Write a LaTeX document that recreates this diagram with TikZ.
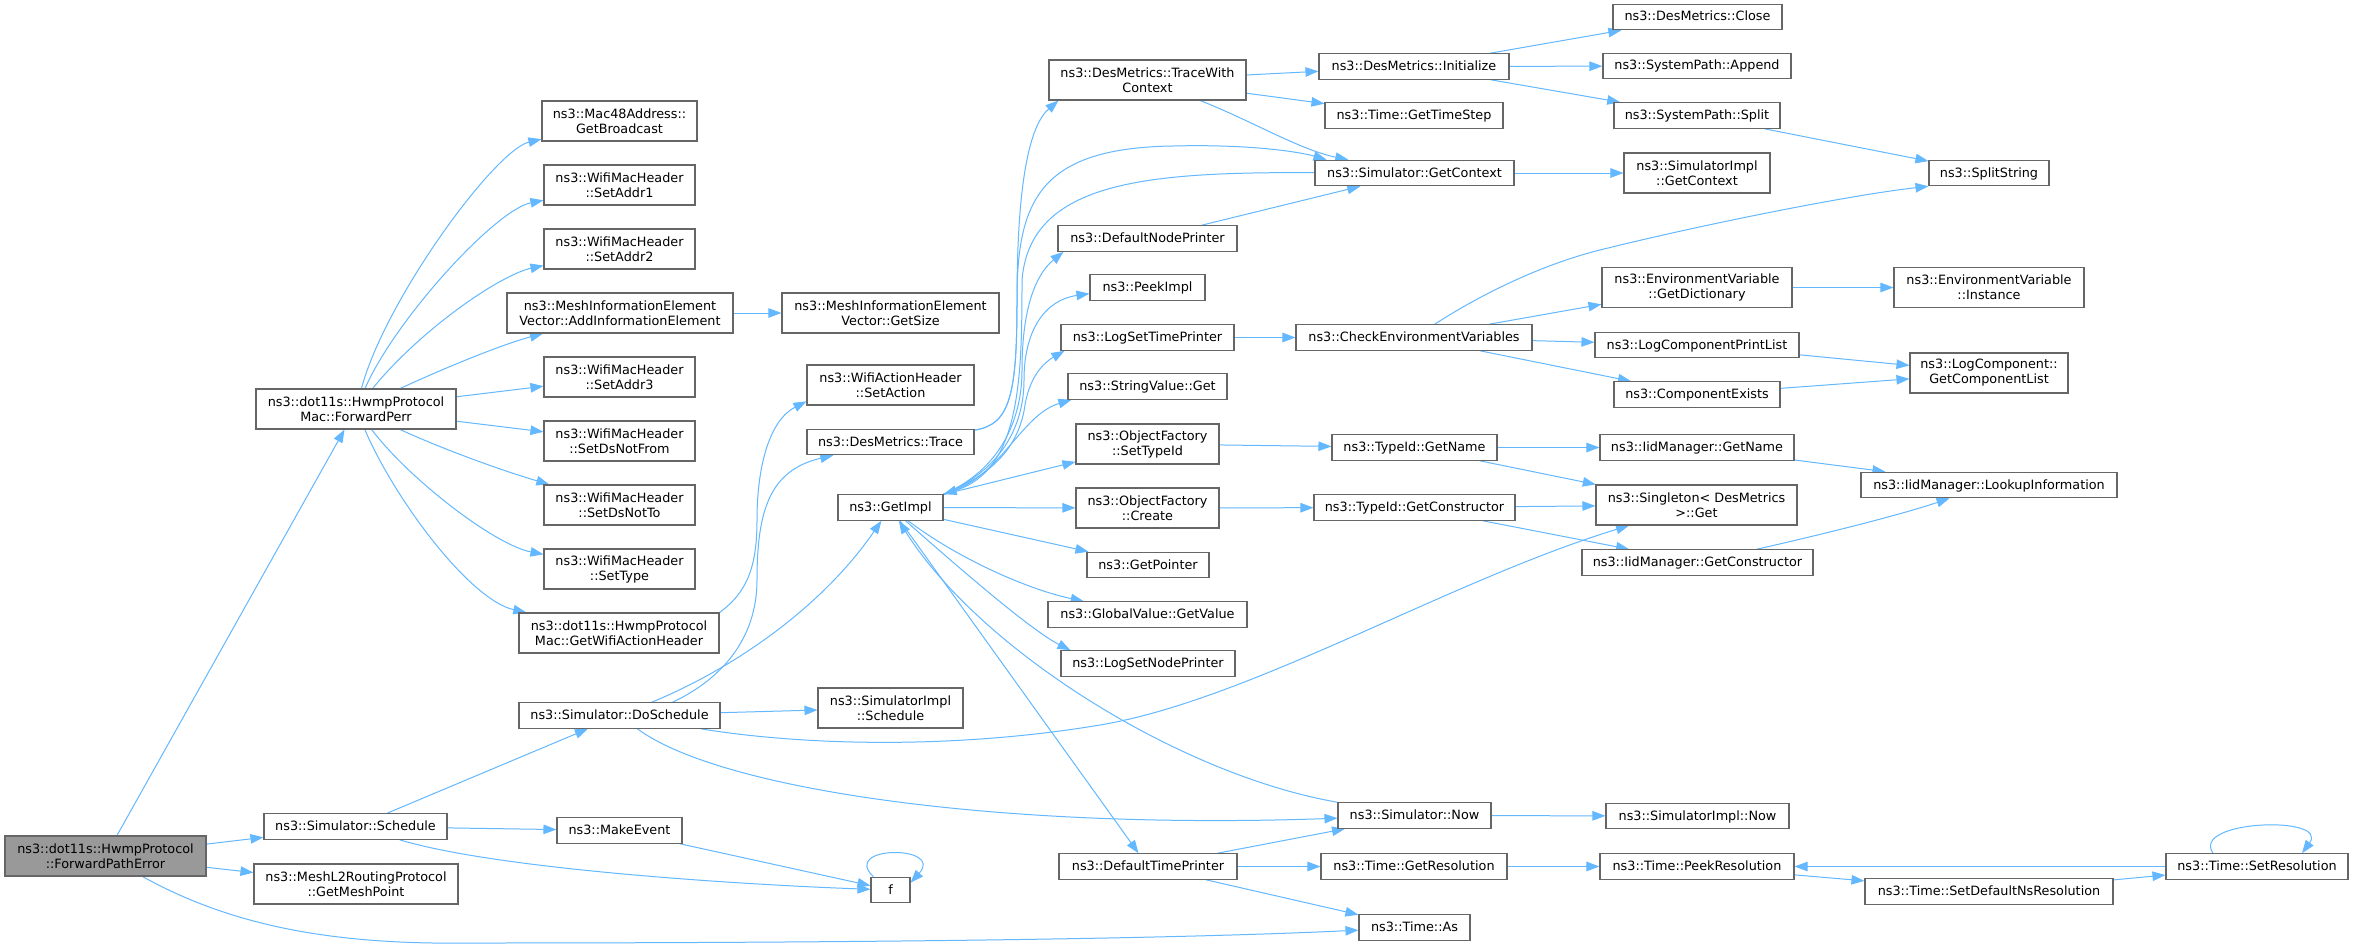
\documentclass[tikz,border=0pt]{standalone}
\usepackage{fontspec}
\setmainfont{DejaVu Sans}
\usetikzlibrary{arrows.meta}
\definecolor{edgec}{HTML}{63B8FF}
\definecolor{boxc}{HTML}{666666}
\definecolor{fpec}{HTML}{999999}
\pgfdeclarelayer{bg}
\pgfsetlayers{bg,main}
\begin{document}
\begin{tikzpicture}[x=1pt,y=-1pt,
  font=\fontsize{12.8}{15}\selectfont,
  box/.style={draw=boxc, line width=1.1pt, fill=white, inner sep=0pt, minimum height=25.5pt, text height=9.4pt, text depth=1.4pt},
  two/.style={draw=boxc, line width=1.1pt, fill=white, inner sep=0pt, minimum height=40pt, align=center},
  e/.style={draw=edgec, line width=1pt, -{Triangle[length=13pt,width=9.5pt]}}]
\begin{pgfonlayer}{bg}
\fill[white] (0,0) rectangle (2355,950);
\end{pgfonlayer}
\useasboundingbox (0,0) rectangle (2355,950);

% column 0-2
\node[two, fill=fpec, minimum width=201pt] (fpe) at (105.5,856) {ns3::dot11s::HwmpProtocol\\::ForwardPathError};
\node[two, minimum width=200pt] (fperr) at (356,409) {ns3::dot11s::HwmpProtocol\\Mac::ForwardPerr};
\node[box, minimum width=183pt] (sched) at (355.5,826.5) {ns3::Simulator::Schedule};
\node[two, minimum width=204pt] (meshpt) at (356,884) {ns3::MeshL2RoutingProtocol\\::GetMeshPoint};
\node[two, minimum width=155pt] (mac48) at (619.5,121) {ns3::Mac48Address::\\GetBroadcast};
\node[two, minimum width=151pt] (sa1) at (619.5,185) {ns3::WifiMacHeader\\::SetAddr1};
\node[two, minimum width=151pt] (sa2) at (619.5,249) {ns3::WifiMacHeader\\::SetAddr2};
\node[two, minimum width=226pt] (addie) at (620,313) {ns3::MeshInformationElement\\Vector::AddInformationElement};
\node[two, minimum width=151pt] (sa3) at (619.5,377) {ns3::WifiMacHeader\\::SetAddr3};
\node[two, minimum width=151pt] (sdnf) at (619.5,441) {ns3::WifiMacHeader\\::SetDsNotFrom};
\node[two, minimum width=151pt] (sdnt) at (619.5,505) {ns3::WifiMacHeader\\::SetDsNotTo};
\node[two, minimum width=151pt] (stype) at (619.5,569) {ns3::WifiMacHeader\\::SetType};
\node[two, minimum width=200pt] (gwah) at (619,633) {ns3::dot11s::HwmpProtocol\\Mac::GetWifiActionHeader};
\node[box, minimum width=201pt] (dosch) at (619.5,715.5) {ns3::Simulator::DoSchedule};
\node[box, minimum width=125pt] (mkev) at (619.5,830.5) {ns3::MakeEvent};
% column 3
\node[two, minimum width=217pt] (gsize) at (890.5,313) {ns3::MeshInformationElement\\Vector::GetSize};
\node[two, minimum width=167pt] (sact) at (890.5,385) {ns3::WifiActionHeader\\::SetAction};
\node[box, minimum width=167pt] (trace) at (890.5,442) {ns3::DesMetrics::Trace};
\node[box, minimum width=105pt] (gi) at (890.5,507.5) {ns3::GetImpl};
\node[two, minimum width=145pt] (sisch) at (890.5,708) {ns3::SimulatorImpl\\::Schedule};
\node[box, minimum width=39pt] (f) at (890.5,890) {f};
% column 4
\node[two, minimum width=197pt] (twc) at (1147.5,80) {ns3::DesMetrics::TraceWith\\Context};
\node[box, minimum width=179pt] (dnp) at (1147.5,238.5) {ns3::DefaultNodePrinter};
\node[box, minimum width=115pt] (peek) at (1147.5,287.5) {ns3::PeekImpl};
\node[box, minimum width=173pt] (lstp) at (1147.5,337.5) {ns3::LogSetTimePrinter};
\node[box, minimum width=159pt] (svget) at (1147.5,386.5) {ns3::StringValue::Get};
\node[two, minimum width=143pt] (ofsti) at (1147.5,444) {ns3::ObjectFactory\\::SetTypeId};
\node[two, minimum width=143pt] (ofcr) at (1147.5,508) {ns3::ObjectFactory\\::Create};
\node[box, minimum width=122pt] (gptr) at (1148,565) {ns3::GetPointer};
\node[box, minimum width=199pt] (gval) at (1147.5,614.5) {ns3::GlobalValue::GetValue};
\node[box, minimum width=174pt] (lsnp) at (1148,663.5) {ns3::LogSetNodePrinter};
\node[box, minimum width=178pt] (dtp) at (1148,866.5) {ns3::DefaultTimePrinter};
% column 5
\node[box, minimum width=190pt] (dminit) at (1414,66.5) {ns3::DesMetrics::Initialize};
\node[box, minimum width=178pt] (gts) at (1414,115.5) {ns3::Time::GetTimeStep};
\node[box, minimum width=199pt] (gctx) at (1414.5,173) {ns3::Simulator::GetContext};
\node[box, minimum width=236pt] (cev) at (1414,337.5) {ns3::CheckEnvironmentVariables};
\node[box, minimum width=165pt] (tgn) at (1414.5,447.5) {ns3::TypeId::GetName};
\node[box, minimum width=201pt] (tgc) at (1414.5,507.5) {ns3::TypeId::GetConstructor};
\node[box, minimum width=153pt] (snow) at (1414.5,815.5) {ns3::Simulator::Now};
\node[box, minimum width=186pt] (gres) at (1414,866.5) {ns3::Time::GetResolution};
\node[box, minimum width=111pt] (tas) at (1414.5,927.5) {ns3::Time::As};
% column 6
\node[box, minimum width=169pt] (dmclose) at (1697.5,17) {ns3::DesMetrics::Close};
\node[box, minimum width=188pt] (spapp) at (1697,66) {ns3::SystemPath::Append};
\node[box, minimum width=166pt] (spsplit) at (1697,115.5) {ns3::SystemPath::Split};
\node[two, minimum width=146pt] (sigc) at (1697,173) {ns3::SimulatorImpl\\::GetContext};
\node[two, minimum width=190pt] (evgd) at (1697,287.5) {ns3::EnvironmentVariable\\::GetDictionary};
\node[box, minimum width=204pt] (lcpl) at (1697,345) {ns3::LogComponentPrintList};
\node[box, minimum width=166pt] (cex) at (1697,394.5) {ns3::ComponentExists};
\node[box, minimum width=194pt] (imgn) at (1697,447.5) {ns3::IidManager::GetName};
\node[two, minimum width=201pt] (sing) at (1696.5,505) {ns3::Singleton< DesMetrics\\ >::Get};
\node[box, minimum width=231pt] (imgc) at (1697.5,562.5) {ns3::IidManager::GetConstructor};
\node[box, minimum width=183pt] (sinow) at (1697.5,816) {ns3::SimulatorImpl::Now};
\node[box, minimum width=194pt] (peekres) at (1697,866.5) {ns3::Time::PeekResolution};
% column 7-8
\node[box, minimum width=120pt] (sstr) at (1989,173) {ns3::SplitString};
\node[two, minimum width=190pt] (evinst) at (1989,287.5) {ns3::EnvironmentVariable\\::Instance};
\node[two, minimum width=158pt] (gcl) at (1989,373) {ns3::LogComponent::\\GetComponentList};
\node[box, minimum width=256pt] (lookup) at (1989,485) {ns3::IidManager::LookupInformation};
\node[box, minimum width=248pt] (sdns) at (1989,891.5) {ns3::Time::SetDefaultNsResolution};
\node[box, minimum width=182pt] (setres) at (2257,866.5) {ns3::Time::SetResolution};

\begin{pgfonlayer}{bg}
% ForwardPathError
\draw[e] (fpe) -- (fperr);
\draw[e] (fpe) -- (sched);
\draw[e] (fpe) -- (meshpt);
\draw[e] (fpe) .. controls (230,925) and (330,945) .. (470,943) .. controls (800,943) and (1150,940) .. (tas);
% ForwardPerr
\draw[e] (fperr) .. controls (385,300) and (495,150) .. (mac48);
\draw[e] (fperr) .. controls (395,320) and (495,210) .. (sa1);
\draw[e] (fperr) .. controls (420,330) and (500,275) .. (sa2);
\draw[e] (fperr) .. controls (440,370) and (500,345) .. (addie);
\draw[e] (fperr) -- (sa3);
\draw[e] (fperr) -- (sdnf);
\draw[e] (fperr) .. controls (440,448) and (500,470) .. (sdnt);
\draw[e] (fperr) .. controls (410,480) and (495,545) .. (stype);
\draw[e] (fperr) .. controls (395,500) and (470,600) .. (gwah);
\draw[e] (addie) -- (gsize);
\draw[e] (gwah.north east) .. controls (748,592) and (757,565) .. (757,520) .. controls (757,465) and (770,420) .. (sact.191);
% Schedule
\draw[e] (sched) -- (dosch);
\draw[e] (sched) -- (mkev);
\draw[e] (sched) .. controls (500,870) and (750,885) .. (f);
\draw[e] (mkev) -- (f);
\draw[e] ([xshift=3pt]f.north west) .. controls (840,845) and (945,845) .. (f.20);
% DoSchedule
\draw[e] ([xshift=53pt]dosch.north) .. controls (720,680) and (757,640) .. (757,580) .. controls (757,510) and (770,470) .. (trace);
\draw[e] (dosch) .. controls (730,670) and (820,610) .. (gi);
\draw[e] (dosch) -- (sisch);
\draw[e] (dosch) .. controls (800,745) and (950,750) .. (1100,725) .. controls (1250,700) and (1450,580) .. (sing);
\draw[e] (dosch) .. controls (720,790) and (1000,830) .. (snow);
% Trace
\draw[e] (trace) .. controls (1010,425) and (1017,395) .. (1017,300) .. controls (1017,180) and (1030,125) .. (twc.193);
\draw[e] (trace) .. controls (1010,425) and (1017,395) .. (1017,300) .. controls (1017,200) and (1040,148) .. (1173,146) .. controls (1250,144) and (1300,152) .. ([xshift=12pt]gctx.north west);
% TraceWithContext
\draw[e] (twc) .. controls (1250,120) and (1300,150) .. (gctx);
\draw[e] (twc) -- (dminit);
\draw[e] (twc) -- (gts);
% GetContext
\draw[e] (gctx) .. controls (1150,172) and (1030,180) .. (1022,280) .. controls (1022,380) and (1020,470) .. (gi.north east);
\draw[e] (dnp) -- (gctx);
\draw[e] (gctx) -- (sigc);
% Initialize
\draw[e] (dminit) -- (dmclose);
\draw[e] (dminit) -- (spapp);
\draw[e] (dminit) -- (spsplit);
\draw[e] (spsplit) -- (sstr);
% GetImpl
\draw[e] (gi.north east) .. controls (1000,470) and (1022,420) .. (1022,370) .. controls (1022,310) and (1035,275) .. ([xshift=6pt]dnp.south west);
\draw[e] (gi.north east) .. controls (1002,470) and (1024,425) .. (1024,380) .. controls (1024,330) and (1045,300) .. (peek.186);
\draw[e] (gi.north east) .. controls (1000,472) and (1020,440) .. (1025,405) .. controls (1030,375) and (1045,362) .. ([xshift=4pt]lstp.south west);
\draw[e] (gi.north east) .. controls (1000,480) and (1020,415) .. ([xshift=4pt]svget.south west);
\draw[e] (gi) -- (ofsti);
\draw[e] (gi) -- (ofcr);
\draw[e] (gi) -- (gptr);
\draw[e] (gi) .. controls (960,560) and (1030,590) .. (gval);
\draw[e] (gi) .. controls (950,560) and (1030,630) .. ([xshift=10pt]lsnp.north west);
\draw[e] (gi) -- (dtp);
% Now / DefaultTimePrinter
\draw[e] (snow) .. controls (1180,775) and (980,650) .. (gi);
\draw[e] (dtp) -- (snow);
\draw[e] (dtp) -- (gres);
\draw[e] (dtp) -- (tas);
\draw[e] (snow) -- (sinow);
\draw[e] (gres) -- (peekres);
\draw[e] (peekres) -- (sdns);
\draw[e] (sdns) -- (setres);
\draw[e] (setres) -- (peekres);
\draw[e] ([xshift=-44pt]setres.north) .. controls (2190,820) and (2330,815) .. ([xshift=45pt]setres.north);
% CheckEnvironmentVariables
\draw[e] (lstp) -- (cev);
\draw[e] (cev) .. controls (1480,295) and (1540,265) .. (1600,250) .. controls (1700,225) and (1850,195) .. (sstr.south west);
\draw[e] (cev) -- (evgd);
\draw[e] (cev) -- (lcpl);
\draw[e] (cev) -- (cex);
\draw[e] (evgd) -- (evinst);
\draw[e] (lcpl) -- (gcl);
\draw[e] (cex) -- (gcl);
% TypeId
\draw[e] (ofsti) -- (tgn);
\draw[e] (tgn) -- (imgn);
\draw[e] (tgn) -- (sing);
\draw[e] (imgn) -- (lookup);
\draw[e] (ofcr) -- (tgc);
\draw[e] (tgc) -- (sing);
\draw[e] (tgc) -- (imgc);
\draw[e] (imgc) .. controls (1820,535) and (1900,515) .. (lookup);
\end{pgfonlayer}
\end{tikzpicture}
\end{document}
